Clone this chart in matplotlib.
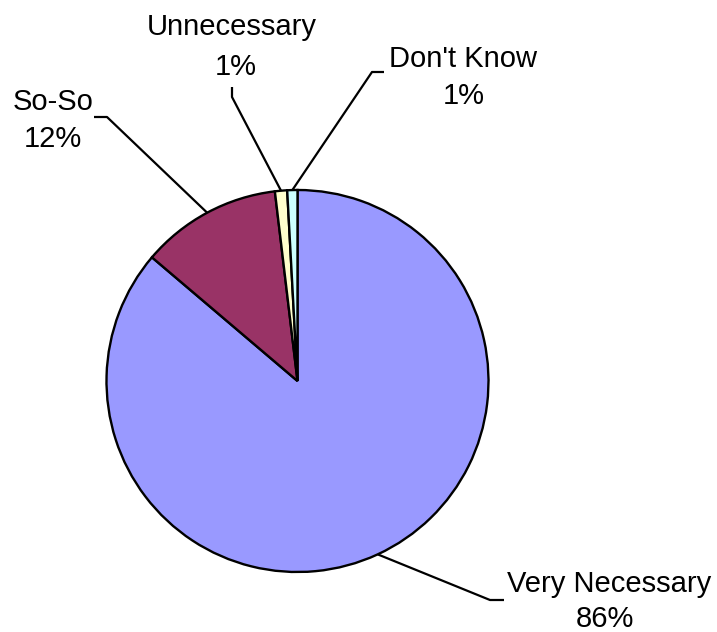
import numpy as np
import matplotlib
matplotlib.use("Agg")
import matplotlib.pyplot as plt

plt.rcParams['font.family'] = ['Liberation Sans', 'DejaVu Sans']

# data (share of answers)
categories = ["Very Necessary", "So-So", "Unnecessary", "Don't Know"]
shares = [86.2, 11.9, 1.03, 0.86]
colors = ["#9999FF", "#993366", "#FFFFCC", "#CCFFFF"]

W, H = 717, 632
fig = plt.figure(figsize=(W / 100, H / 100), dpi=100)
ax = fig.add_axes([0, 0, 1, 1])

# pie placed in pixel-like data coords (y up)
cx, cy, r = 297.5, 251, 191
wedges, _ = ax.pie(shares, colors=colors, startangle=90, counterclock=False,
                   center=(cx, cy), radius=r,
                   wedgeprops=dict(edgecolor="black", linewidth=1.7))

# label layout: elbow point, end of short leg, name anchor (ha, x), pct x, baselines
layout = {
    "Very Necessary": ((490, 600), (504, 600), ('left', 507), 605, (592, 627)),
    "So-So": ((107, 117), (94, 117), ('center', 53), 53, (110, 147)),
    "Unnecessary": ((232, 97), (232, 87), ('center', 232), 236, (35, 75)),
    "Don't Know": ((372, 72), (384, 72), ('center', 463), 464, (67, 104)),
}

total = sum(shares)
for w, name, val in zip(wedges, categories, shares):
    mid = np.deg2rad((w.theta1 + w.theta2) / 2)
    ex, ey = cx + r * np.cos(mid), cy + r * np.sin(mid)
    elbow, leg, (ha, nx), px, (b1, b2) = layout[name]
    ax.plot([ex, elbow[0], leg[0]], [ey, H - elbow[1], H - leg[1]],
            color="black", lw=1.6, zorder=0, solid_capstyle='butt')
    ax.text(nx, H - b1, name, fontsize=21, ha=ha, va='baseline')
    ax.text(px, H - b2, f"{round(val / total * 100)}%", fontsize=21,
            ha='center', va='baseline')

ax.set_xlim(0, W)
ax.set_ylim(0, H)
ax.set_aspect('auto')
ax.axis('off')

fig.savefig("out.png", dpi=100)
